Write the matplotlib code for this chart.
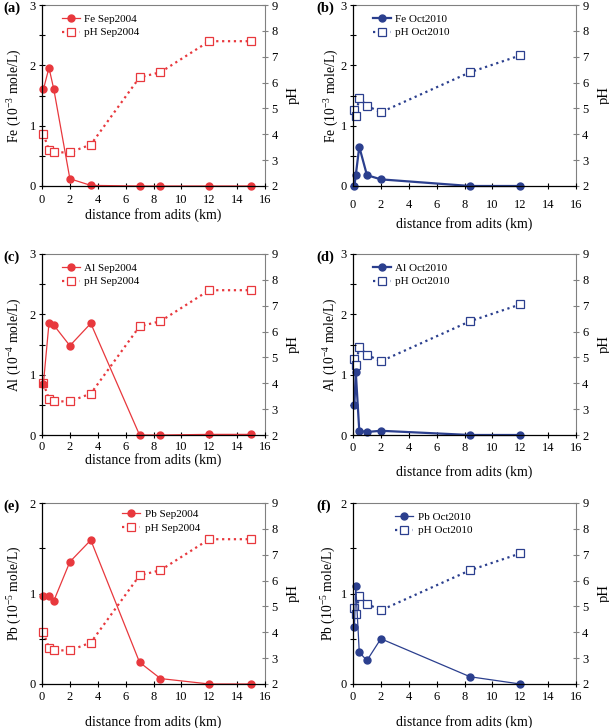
import matplotlib
matplotlib.use('Agg')
import matplotlib.pyplot as plt
from matplotlib.ticker import MultipleLocator

plt.rcParams['font.family'] = ['Liberation Serif', 'DejaVu Serif']
plt.rcParams['mathtext.fontset'] = 'custom'
plt.rcParams['mathtext.rm'] = 'Liberation Serif'
plt.rcParams['mathtext.it'] = 'Liberation Serif:italic'

# Sep 2004 sampling
dist04 = [0.1, 0.5, 0.85, 2, 3.5, 7, 8.5, 12, 15]
ph04 = [4.0, 3.4, 3.3, 3.3, 3.6, 6.2, 6.4, 7.6, 7.6]
fe04 = [1.6, 1.96, 1.6, 0.12, 0.01, 0, 0, 0, 0]
al04 = [0.85, 1.85, 1.82, 1.48, 1.85, 0, 0, 0.01, 0.01]
pb04 = [0.97, 0.97, 0.92, 1.35, 1.59, 0.24, 0.06, 0, 0]

# Oct 2010 sampling
dist10 = [0.1, 0.2, 0.45, 1.0, 2.0, 8.4, 12.0]
ph10 = [4.95, 4.7, 5.4, 5.1, 4.85, 6.4, 7.05]
fe10 = [0.0, 0.18, 0.65, 0.18, 0.11, 0, 0]
al10 = [0.5, 1.04, 0.07, 0.05, 0.07, 0, 0]
pb10 = [0.63, 1.08, 0.35, 0.26, 0.5, 0.08, 0]

red = '#e8383d'
blue = '#2b3f8e'
grey = '#808080'

W, H = 609, 728
fig = plt.figure(figsize=(W / 100, H / 100), dpi=100)

# panel: tag, left px, top px, metal, exponent, ymax, x, y, ph, year, color, lw,
#        legend anchor, tick pad, xlabel pad, ylabel offset px
panels = [
    ('(a)', 42, 5, 'Fe', 3, 3, dist04, fe04, ph04, 'Sep2004', red, 0.9, (0.09, 0.95), 3.5, 1.5, 27),
    ('(b)', 353, 5, 'Fe', 3, 3, dist10, fe10, ph10, 'Oct2010', blue, 1.6, (0.09, 0.95), 7, 4, 21),
    ('(c)', 42, 254, 'Al', 4, 3, dist04, al04, ph04, 'Sep2004', red, 0.9, (0.09, 0.95), 1.5, 0, 27),
    ('(d)', 353, 254, 'Al', 4, 3, dist10, al10, ph10, 'Oct2010', blue, 1.6, (0.09, 0.95), 2.5, 8, 22),
    ('(e)', 42, 503, 'Pb', 5, 2, dist04, pb04, ph04, 'Sep2004', red, 0.9, (0.36, 0.965), 2.5, 9, 27),
    ('(f)', 353, 503, 'Pb', 5, 2, dist10, pb10, ph10, 'Oct2010', blue, 0.9, (0.19, 0.95), 2.5, 9, 24),
]

aw, ah = 223, 181
for (tag, lx, ty, metal, ex, ymax, xs, ys, ph, year, col, lw, leg, tpad, xpad, yoff) in panels:
    ax = fig.add_axes([lx / W, (H - ty - ah) / H, aw / W, ah / H])
    ax2 = ax.twinx()
    ax.set_zorder(ax2.get_zorder() + 1)
    ax.patch.set_visible(False)

    l1, = ax.plot(xs, ys, '-', color=col, lw=lw, marker='o', ms=5,
                  mfc=col, mec=col, label=metal + ' ' + year, clip_on=False)
    l2, = ax2.plot(xs, ph, ':', color=col, lw=1.6, marker='s', ms=5.5,
                   mfc='white', mec=col, mew=0.9, label='pH ' + year, clip_on=False)

    ax.set_xlim(0, 16)
    ax.set_ylim(0, ymax)
    ax2.set_ylim(2, 9)
    ax.xaxis.set_major_locator(MultipleLocator(2))
    ax.yaxis.set_major_locator(MultipleLocator(1))
    ax.yaxis.set_minor_locator(MultipleLocator(0.5))
    ax2.yaxis.set_major_locator(MultipleLocator(1))

    for s in ['top', 'right']:
        ax.spines[s].set_visible(False)
    for s in ['left', 'bottom']:
        ax2.spines[s].set_visible(False)
    ax2.spines['right'].set_color(grey)
    ax2.spines['top'].set_color(grey)
    ax.spines['left'].set_linewidth(0.9)
    ax.spines['bottom'].set_linewidth(0.9)

    ax.tick_params(axis='both', which='major', direction='inout', length=5, width=0.8,
                   labelsize=9)
    ax.tick_params(axis='y', which='minor', direction='inout', length=4, width=0.8)
    ax.tick_params(axis='x', pad=tpad)
    ax.tick_params(axis='y', pad=2)
    ax2.tick_params(axis='y', direction='inout', length=5, width=0.8, color=grey,
                    labelsize=9, pad=2)

    ax.set_xlabel('distance from adits (km)', fontsize=10, labelpad=xpad)
    ax.set_ylabel(metal + ' (10$^{-%d}$ mole/L)' % ex, fontsize=9.8, va='center')
    ax.yaxis.set_label_coords(-yoff / aw, 0.5)
    ax2.set_ylabel('pH', fontsize=10.5, va='center')
    ax2.yaxis.set_label_coords(1 + 28 / aw, 0.5)

    ax.legend([l1, l2], [l1.get_label(), l2.get_label()], loc='upper left',
              bbox_to_anchor=leg, frameon=False, fontsize=8, borderpad=0,
              handlelength=1.6, handletextpad=0.4, labelspacing=0.35,
              borderaxespad=0)

    fig.text((lx - 39 if lx < 100 else lx - 37) / W, 1 - (ty + 3) / H, tag,
             fontsize=10.5, fontweight='bold', ha='left', va='center')

fig.savefig('out.png', dpi=100)
